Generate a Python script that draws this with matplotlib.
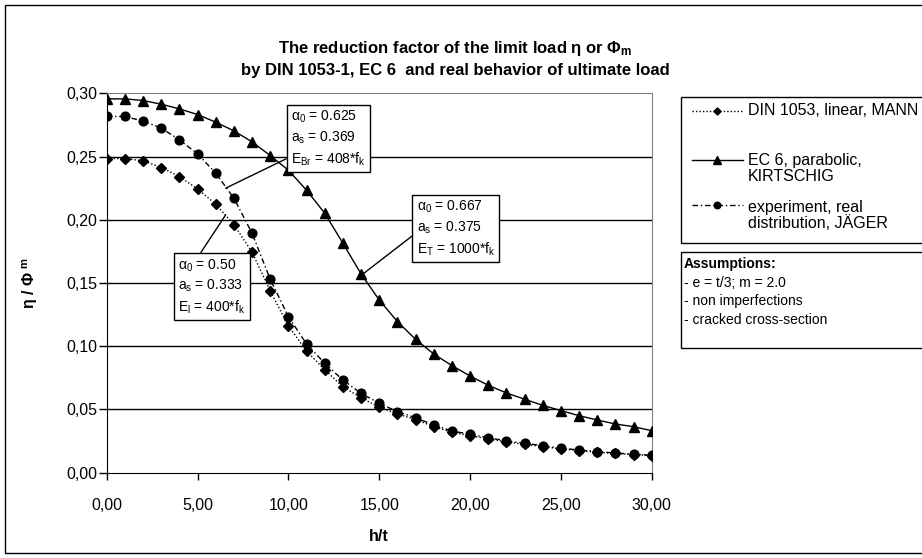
import numpy as np
import matplotlib
matplotlib.use("Agg")
import matplotlib.pyplot as plt
from matplotlib.lines import Line2D
from matplotlib.patches import Rectangle
from matplotlib.ticker import FuncFormatter, MultipleLocator

plt.rcParams['font.family'] = ['Liberation Sans', 'DejaVu Sans']
plt.rcParams['mathtext.fontset'] = 'custom'
plt.rcParams['mathtext.rm'] = 'Liberation Sans'
plt.rcParams['mathtext.it'] = 'Liberation Sans:italic'
plt.rcParams['mathtext.bf'] = 'Liberation Sans:bold'

# h/t values
ht = list(range(0, 31))

# DIN 1053, linear, MANN
din = [0.2484, 0.2484, 0.2466, 0.2413, 0.2342, 0.2244, 0.2123, 0.1962, 0.1744, 0.1437,
       0.1161, 0.0963, 0.0813, 0.0680, 0.0593, 0.0517, 0.0465, 0.0420, 0.0365, 0.0320,
       0.0293, 0.0268, 0.0243, 0.0225, 0.0207, 0.0188, 0.0175, 0.0162, 0.0152, 0.0143, 0.0136]
# EC 6, parabolic, KIRTSCHIG
ec6 = [0.2956, 0.2956, 0.2943, 0.2914, 0.2877, 0.2832, 0.2772, 0.2703, 0.2616, 0.2508,
       0.2392, 0.2234, 0.2052, 0.1815, 0.1572, 0.1366, 0.1195, 0.1055, 0.0939, 0.0847,
       0.0765, 0.0691, 0.0631, 0.0581, 0.0533, 0.0491, 0.0451, 0.0417, 0.0385, 0.0364, 0.0332]
# experiment, real distribution, JAEGER
exp = [0.2817, 0.2817, 0.2780, 0.2725, 0.2632, 0.2521, 0.2369, 0.2171, 0.1894, 0.1530,
       0.1234, 0.1018, 0.0865, 0.0733, 0.0628, 0.0549, 0.0483, 0.0435, 0.0377, 0.0330,
       0.0304, 0.0277, 0.0251, 0.0233, 0.0214, 0.0193, 0.0180, 0.0166, 0.0156, 0.0146, 0.0138]

legend_labels = ["DIN 1053, linear, MANN", "EC 6, parabolic,\nKIRTSCHIG",
                 "experiment, real\ndistribution, JÄGER"]
assumptions = ["- e = t/3; m = 2.0", "- non imperfections", "- cracked cross-section"]

W, H = 922, 558
fig = plt.figure(figsize=(W / 100, H / 100), dpi=100)
ax = fig.add_axes([106.7 / W, 1 - 472.7 / H, 545 / W, 379.4 / H])

din_style = dict(color='black', lw=1.0, ls=(0, (1, 1.5)), marker='D', ms=4.8)
ec6_style = dict(color='black', lw=1.0, ls='-', marker='^', ms=7)
exp_style = dict(color='black', lw=1.0, ls=(0, (4, 2, 1, 2)), marker='o', ms=6.3)

ax.plot(ht, din, zorder=3, **din_style)
ax.plot(ht, ec6, zorder=3, **ec6_style)
ax.plot(ht, exp, zorder=3, **exp_style)

ax.set_xlim(0, 30)
ax.set_ylim(0, 0.30)
ax.xaxis.set_major_locator(MultipleLocator(5))
ax.yaxis.set_major_locator(MultipleLocator(0.05))
fmt = FuncFormatter(lambda v, p: ("%.2f" % v).replace('.', ','))
ax.xaxis.set_major_formatter(fmt)
ax.yaxis.set_major_formatter(fmt)
ax.tick_params(axis='x', direction='out', length=5, width=1, labelsize=11.5, pad=13)
ax.tick_params(axis='y', direction='out', length=6, width=1, labelsize=11.5, pad=1)
for yv in [0.05, 0.10, 0.15, 0.20, 0.25]:
    ax.axhline(yv, color='black', lw=1, zorder=1)
for s in ['top', 'right']:
    ax.spines[s].set_color('#808080')
for s in ['left', 'bottom']:
    ax.spines[s].set_color('black')

ax.set_xlabel("h/t", fontsize=11.5, fontweight='bold', labelpad=12)
fig.text(30 / W, 1 - 283 / H, "η / Φ $^{\\mathbf{m}}$", rotation=90, fontsize=11.5,
         fontweight='bold', ha='center', va='center')

fig.text(455 / W, 1 - 48 / H, "The reduction factor of the limit load η or Φ$_\\mathbf{m}$",
         fontsize=12, fontweight='bold', ha='center', va='center')
fig.text(455 / W, 1 - 71 / H, "by DIN 1053-1, EC 6  and real behavior of ultimate load",
         fontsize=12, fontweight='bold', ha='center', va='center')

box = dict(boxstyle='square,pad=0.3', fc='white', ec='black', lw=1)
def note(txt, tip, pos, rel):
    ax.annotate(txt, xy=tip, xytext=pos, textcoords='data', ha='left', va='top',
                fontsize=10, linespacing=1.35, bbox=box, zorder=5,
                arrowprops=dict(arrowstyle='-', color='black', lw=1, relpos=rel,
                                shrinkA=0, shrinkB=0))

note("α$_\\mathregular{0}$ = 0.625\na$_\\mathregular{s}$ = 0.369\nE$_\\mathregular{Br}$ = 408*f$_\\mathregular{k}$",
     (6.55, 0.225), (10.13, 0.2877), (0, 0.19))
note("α$_\\mathregular{0}$ = 0.50\na$_\\mathregular{s}$ = 0.333\nE$_\\mathregular{l}$ = 400*f$_\\mathregular{k}$",
     (6.55, 0.2039), (3.94, 0.1704), (0.29, 1))
note("α$_\\mathregular{0}$ = 0.667\na$_\\mathregular{s}$ = 0.375\nE$_\\mathregular{T}$ = 1000*f$_\\mathregular{k}$",
     (14.04, 0.1564), (17.06, 0.2165), (0, 0.43))

# legend box (runs off the right edge like the original)
fig.add_artist(Rectangle((681 / W, 1 - 243.3 / H), 260 / W, 146.6 / H, transform=fig.transFigure,
                         fc='white', ec='black', lw=1))
rows = [(110.7, din_style, 110.7), (160, ec6_style, 168.5), (205, exp_style, 215.5)]
for (ly, st, ty), lab in zip(rows, legend_labels):
    yf = 1 - ly / H
    fig.add_artist(Line2D([692 / W, 743 / W], [yf, yf], transform=fig.transFigure,
                          color='black', lw=1.0, ls=st['ls']))
    fig.add_artist(Line2D([717 / W], [yf], transform=fig.transFigure, color='black',
                          marker=st['marker'], ms=st['ms'] * 0.75, ls='none'))
    fig.text(748 / W, 1 - ty / H, lab, fontsize=11.5, ha='left', va='center', linespacing=1.08)

# assumptions box
fig.add_artist(Rectangle((681 / W, 1 - 348.3 / H), 260 / W, 96.6 / H, transform=fig.transFigure,
                         fc='white', ec='black', lw=1))
fig.text(684 / W, 1 - 264 / H, "Assumptions:", fontsize=10, fontweight='bold', ha='left', va='center')
for i, a in enumerate(assumptions):
    fig.text(684 / W, 1 - (283 + 18.3 * i) / H, a, fontsize=10, ha='left', va='center')

# chart area border
fig.add_artist(Rectangle((5 / W, 1 - 553 / H), 940 / W, 548 / H, transform=fig.transFigure,
                         fc='none', ec='black', lw=1))

fig.savefig("out.png", dpi=100)
